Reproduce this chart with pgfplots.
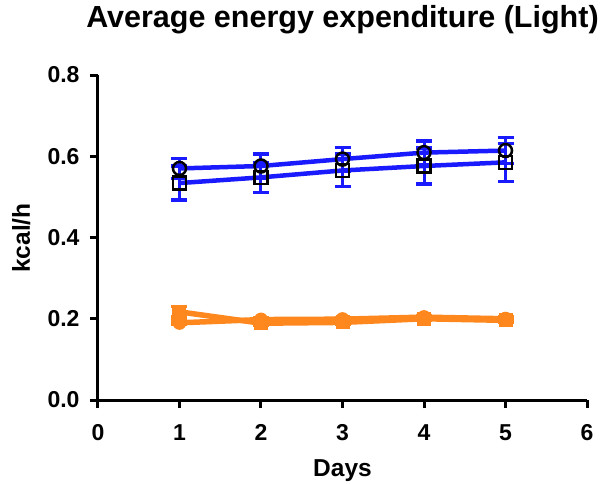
\documentclass[border=0pt]{standalone}
\usepackage{pgfplots}
\pgfplotsset{compat=1.18}
\usepackage{fontspec}
\setmainfont{Liberation Sans}
\definecolor{pblue}{RGB}{26,26,255}
\definecolor{porange}{RGB}{255,136,30}
\begin{document}
\begin{tikzpicture}
\path[use as bounding box] (-98bp,-84bp) rectangle (506bp,400bp);
\begin{axis}[
  at={(0,0)}, anchor=south west,
  scale only axis, width=489bp, height=325bp,
  xmin=0, xmax=6, ymin=0, ymax=0.8,
  axis lines=left, axis line style={-, line width=3bp},
  xtick={0,1,2,3,4,5,6}, ytick={0,0.2,0.4,0.6,0.8},
  tick align=outside, major tick length=8bp,
  tick style={line width=3bp, black},
  /pgf/number format/assume math mode=true,
  tick label style={font=\fontsize{23bp}{26bp}\selectfont\bfseries},
  yticklabel style={/pgf/number format/fixed, /pgf/number format/fixed zerofill, /pgf/number format/precision=1, anchor=east, xshift=-7bp},
  xticklabel style={anchor=base, yshift=-32bp},
  title={Average energy expenditure (Light)},
  title style={font=\fontsize{30.5bp}{34bp}\selectfont\bfseries, at={(0.5,1)}, anchor=base, yshift=42bp},
  xlabel={Days},
  xlabel style={font=\fontsize{24.5bp}{28bp}\selectfont\bfseries, at={(0.5,0)}, anchor=base, yshift=-76bp},
  ylabel={kcal/h},
  ylabel style={font=\fontsize{24.5bp}{28bp}\selectfont\bfseries, at={(-68bp,162bp)}, anchor=base, rotate=0},
  clip=false,
]
% blue square series
\addplot[pblue, line width=4.5bp, mark=square, mark size=6.5bp,
  mark options={draw=black, line width=2.5bp, fill=none},
  error bars/.cd, y dir=both, y explicit,
  error bar style={line width=3bp, pblue},
  error mark options={line width=3.5bp, mark size=8bp, pblue, rotate=90}]
  coordinates {(1,0.534)+-(0,0.042) (2,0.548)+-(0,0.037) (3,0.565)+-(0,0.040) (4,0.576)+-(0,0.044) (5,0.585)+-(0,0.047)};
% blue circle series
\addplot[pblue, line width=4.5bp, mark=o, mark size=6.5bp,
  mark options={draw=black, line width=2.5bp, fill=none},
  error bars/.cd, y dir=both, y explicit,
  error bar style={line width=3bp, pblue},
  error mark options={line width=3.5bp, mark size=8bp, pblue, rotate=90}]
  coordinates {(1,0.570)+-(0,0.025) (2,0.576)+-(0,0.029) (3,0.593)+-(0,0.029) (4,0.609)+-(0,0.029) (5,0.614)+-(0,0.032)};
% orange square series
\addplot[porange, line width=5.5bp, mark=square*, mark size=6.5bp,
  mark options={line width=1bp},
  error bars/.cd, y dir=both, y explicit,
  error bar style={line width=3bp, porange},
  error mark options={line width=3.5bp, mark size=8bp, porange, rotate=90}]
  coordinates {(1,0.217)+-(0,0.013) (2,0.189)+-(0,0.004) (3,0.191)+-(0,0.004) (4,0.200)+-(0,0.004) (5,0.196)+-(0,0.004)};
% orange circle series
\addplot[porange, line width=5.5bp, mark=*, mark size=6.5bp,
  mark options={line width=1bp},
  error bars/.cd, y dir=both, y explicit,
  error bar style={line width=3bp, porange},
  error mark options={line width=3.5bp, mark size=8bp, porange, rotate=90}]
  coordinates {(1,0.190)+-(0,0.004) (2,0.198)+-(0,0.004) (3,0.199)+-(0,0.004) (4,0.204)+-(0,0.004) (5,0.200)+-(0,0.004)};
\end{axis}
\end{tikzpicture}
\end{document}
